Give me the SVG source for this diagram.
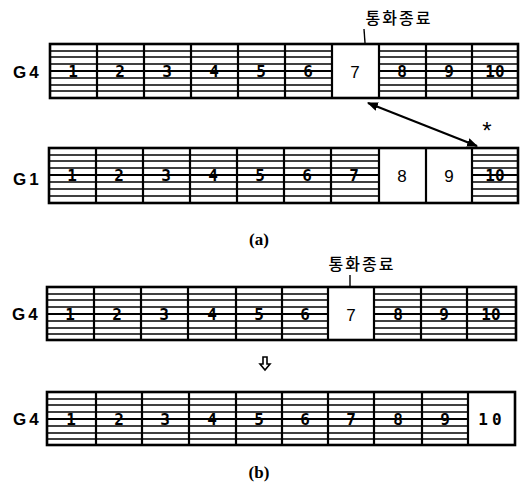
<svg xmlns="http://www.w3.org/2000/svg" width="522" height="493" viewBox="0 0 522 493">
<style>
.hatch{stroke:#000;stroke-width:1.4}
.div{stroke:#000;stroke-width:2.2}
.border{fill:none;stroke:#000;stroke-width:2.6}
.blank{fill:#fff}
.num{font-family:"DejaVu Sans Mono",monospace;font-weight:bold;font-size:16px;text-anchor:middle;fill:#000}
.bnum{font-family:"Liberation Sans",sans-serif;font-size:17px;text-anchor:middle;fill:#000}
.lab{font-family:"Liberation Sans",sans-serif;font-weight:bold;font-size:17px;letter-spacing:3px;fill:#000}
.kr{font-family:"Noto Sans CJK KR",sans-serif;font-size:16px;font-weight:500;letter-spacing:2px;text-anchor:middle;fill:#000}
.cap{font-family:"Liberation Serif",serif;font-weight:bold;font-size:17px;text-anchor:middle;fill:#000}
.conn{stroke:#000;stroke-width:2.2;fill:none}
</style>
<defs>
<marker id="ah" viewBox="0 0 10 10" refX="9" refY="5" markerWidth="5" markerHeight="5" orient="auto-start-reverse">
<path d="M0,1 L10,5 L0,9 z" fill="#000"/>
</marker>
</defs>
<rect width="522" height="493" fill="#fff"/>

<!-- Row 1: G4 (a) -->
<g id="row-a-g4">
<text class="lab" x="13" y="78">G4</text>
<g class="hatch">
<line x1="50" y1="51" x2="518" y2="51"/><line x1="50" y1="57" x2="518" y2="57"/><line x1="50" y1="64" x2="518" y2="64"/><line x1="50" y1="71" x2="518" y2="71" stroke-width="2"/><line x1="50" y1="78" x2="518" y2="78"/><line x1="50" y1="85" x2="518" y2="85"/><line x1="50" y1="91" x2="518" y2="91"/>
</g>
<rect class="blank" x="332" y="44" width="47" height="54"/>
<g class="div">
<line x1="97" y1="44" x2="97" y2="98"/><line x1="144" y1="44" x2="144" y2="98"/><line x1="191" y1="44" x2="191" y2="98"/><line x1="238" y1="44" x2="238" y2="98"/><line x1="285" y1="44" x2="285" y2="98"/><line x1="332" y1="44" x2="332" y2="98"/><line x1="379" y1="44" x2="379" y2="98"/><line x1="426" y1="44" x2="426" y2="98"/><line x1="472" y1="44" x2="472" y2="98"/>
</g>
<rect class="border" x="50" y="44" width="468" height="54"/>
<text class="num" x="73" y="77">1</text><text class="num" x="120" y="77">2</text><text class="num" x="167" y="77">3</text><text class="num" x="214" y="77">4</text><text class="num" x="261" y="77">5</text><text class="num" x="308" y="77">6</text>
<text class="bnum" x="355" y="78">7</text>
<text class="num" x="402" y="77">8</text><text class="num" x="449" y="77">9</text><text class="num" x="495" y="77">10</text>
<text class="kr" x="399" y="24">통화종료</text>
<line x1="364" y1="29" x2="365" y2="43" stroke="#000" stroke-width="1.4"/>
</g>

<!-- Row 2: G1 (a) -->
<g id="row-a-g1">
<text class="lab" x="13" y="185">G1</text>
<g class="hatch">
<line x1="49" y1="155" x2="518" y2="155"/><line x1="49" y1="161" x2="518" y2="161"/><line x1="49" y1="168" x2="518" y2="168"/><line x1="49" y1="175" x2="518" y2="175" stroke-width="2"/><line x1="49" y1="182" x2="518" y2="182"/><line x1="49" y1="189" x2="518" y2="189"/><line x1="49" y1="196" x2="518" y2="196"/>
</g>
<rect class="blank" x="379" y="148" width="93" height="55"/>
<g class="div">
<line x1="96" y1="148" x2="96" y2="203"/><line x1="143" y1="148" x2="143" y2="203"/><line x1="190" y1="148" x2="190" y2="203"/><line x1="237" y1="148" x2="237" y2="203"/><line x1="284" y1="148" x2="284" y2="203"/><line x1="331" y1="148" x2="331" y2="203"/><line x1="379" y1="148" x2="379" y2="203"/><line x1="426" y1="148" x2="426" y2="203"/><line x1="472" y1="148" x2="472" y2="203"/>
</g>
<rect class="border" x="49" y="148" width="469" height="55"/>
<text class="num" x="72" y="181">1</text><text class="num" x="119" y="181">2</text><text class="num" x="166" y="181">3</text><text class="num" x="213" y="181">4</text><text class="num" x="260" y="181">5</text><text class="num" x="307" y="181">6</text><text class="num" x="354" y="181">7</text>
<text class="bnum" x="402" y="182">8</text><text class="bnum" x="449" y="182">9</text>
<text class="num" x="495" y="181">10</text>
</g>

<g id="caption-a"><text class="cap" x="259" y="245">(a)</text></g>

<!-- Row 3: G4 (b) top -->
<g id="row-b-g4-before">
<text class="lab" x="12" y="320">G4</text>
<g class="hatch">
<line x1="47" y1="294" x2="516" y2="294"/><line x1="47" y1="300" x2="516" y2="300"/><line x1="47" y1="307" x2="516" y2="307"/><line x1="47" y1="314" x2="516" y2="314" stroke-width="2"/><line x1="47" y1="321" x2="516" y2="321"/><line x1="47" y1="328" x2="516" y2="328"/><line x1="47" y1="334" x2="516" y2="334"/>
</g>
<rect class="blank" x="328" y="287" width="46" height="53"/>
<g class="div">
<line x1="94" y1="287" x2="94" y2="340"/><line x1="141" y1="287" x2="141" y2="340"/><line x1="188" y1="287" x2="188" y2="340"/><line x1="236" y1="287" x2="236" y2="340"/><line x1="282" y1="287" x2="282" y2="340"/><line x1="328" y1="287" x2="328" y2="340"/><line x1="374" y1="287" x2="374" y2="340"/><line x1="421" y1="287" x2="421" y2="340"/><line x1="467" y1="287" x2="467" y2="340"/>
</g>
<rect class="border" x="47" y="287" width="469" height="53"/>
<text class="num" x="70" y="320">1</text><text class="num" x="117" y="320">2</text><text class="num" x="164" y="320">3</text><text class="num" x="212" y="320">4</text><text class="num" x="259" y="320">5</text><text class="num" x="305" y="320">6</text>
<text class="bnum" x="351" y="321">7</text>
<text class="num" x="398" y="320">8</text><text class="num" x="444" y="320">9</text><text class="num" x="491" y="320">10</text>
<text class="kr" x="362" y="270">통화종료</text>
<line x1="350" y1="275" x2="350" y2="287" stroke="#000" stroke-width="1.4"/>
</g>

<!-- Row 4: G4 (b) after -->
<g id="row-b-g4-after">
<text class="lab" x="13" y="425">G4</text>
<g class="hatch">
<line x1="47" y1="399" x2="515" y2="399"/><line x1="47" y1="405" x2="515" y2="405"/><line x1="47" y1="412" x2="515" y2="412"/><line x1="47" y1="419" x2="515" y2="419" stroke-width="2"/><line x1="47" y1="426" x2="515" y2="426"/><line x1="47" y1="433" x2="515" y2="433"/><line x1="47" y1="439" x2="515" y2="439"/>
</g>
<rect class="blank" x="468" y="392" width="47" height="53"/>
<g class="div">
<line x1="96" y1="392" x2="96" y2="445"/><line x1="142" y1="392" x2="142" y2="445"/><line x1="189" y1="392" x2="189" y2="445"/><line x1="236" y1="392" x2="236" y2="445"/><line x1="282" y1="392" x2="282" y2="445"/><line x1="328" y1="392" x2="328" y2="445"/><line x1="374" y1="392" x2="374" y2="445"/><line x1="422" y1="392" x2="422" y2="445"/><line x1="468" y1="392" x2="468" y2="445"/>
</g>
<rect class="border" x="47" y="392" width="468" height="53"/>
<text class="num" x="71" y="425">1</text><text class="num" x="119" y="425">2</text><text class="num" x="165" y="425">3</text><text class="num" x="212" y="425">4</text><text class="num" x="259" y="425">5</text><text class="num" x="305" y="425">6</text><text class="num" x="351" y="425">7</text><text class="num" x="398" y="425">8</text><text class="num" x="445" y="425">9</text>
<text class="num" x="492" y="425" letter-spacing="4" font-weight="normal" font-size="16">10</text>
</g>

<g id="caption-b"><text class="cap" x="259" y="478">(b)</text></g>

<!-- Connectors -->
<g id="connectors">
<line class="conn" x1="368" y1="103" x2="477" y2="146" marker-start="url(#ah)" marker-end="url(#ah)"/>
<text x="487" y="139" font-family="Liberation Sans,sans-serif" font-size="24" text-anchor="middle">*</text>
<path d="M263,357 L267,357 L267,364 L270,364 L265,370 L260,364 L263,364 Z" fill="#fff" stroke="#000" stroke-width="1.6"/>
</g>
</svg>
